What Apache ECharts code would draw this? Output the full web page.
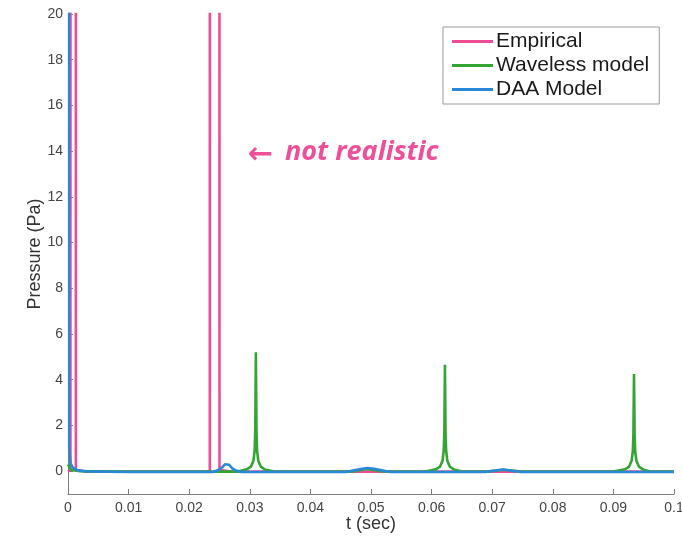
<!DOCTYPE html>
<html>
<head>
<meta charset="utf-8">
<script src="https://cdn.jsdelivr.net/npm/echarts@6/dist/echarts.min.js"></script>
<style>html,body{margin:0;padding:0;background:#fff}#c{width:682px;height:537px}</style>
</head>
<body>
<div id="c"></div>
<script>
var seriesNames = ['Empirical', 'Waveless model', 'DAA Model'];
var xTickLabels = ['0', '0.01', '0.02', '0.03', '0.04', '0.05', '0.06', '0.07', '0.08', '0.09', '0.1'];
var yTickValues = [0, 2, 4, 6, 8, 10, 12, 14, 16, 18, 20];

// [t (sec), pressure (Pa)]
var empirical = [
  [0, -0.02], [0.0004, 0.05], [0.0005, 400], [0.0012, 400], [0.0013, 0.05], [0.003, -0.02],
  [0.01, -0.02], [0.02, -0.02], [0.0234, -0.02], [0.0235, 400], [0.0249, 400], [0.0250, 0.05],
  [0.027, -0.02], [0.04, -0.02], [0.05, -0.02], [0.06, -0.02], [0.07, -0.02], [0.08, -0.02],
  [0.09, -0.02], [0.1, -0.02]
];

var waveless = [
  [0, 0.3], [0.0005, 0.05], [0.002, 0.0], [0.01, -0.02], [0.02, -0.02], [0.028, -0.02],
  [0.0295, 0.08], [0.0302, 0.2], [0.0306, 0.45], [0.0308, 0.9], [0.0309, 1.8], [0.0310, 5.2],
  [0.0311, 1.8], [0.0312, 0.9], [0.0314, 0.45], [0.0318, 0.2], [0.0325, 0.07], [0.034, -0.02],
  [0.047, -0.01], [0.0493, 0.1], [0.052, -0.01],
  [0.059, -0.02], [0.0607, 0.08], [0.0614, 0.2], [0.0618, 0.45], [0.0620, 0.9], [0.0621, 1.7],
  [0.0622, 4.65], [0.0623, 1.7], [0.0624, 0.9], [0.0626, 0.45], [0.0630, 0.2], [0.0637, 0.07],
  [0.065, -0.02], [0.0695, -0.01], [0.0718, 0.06], [0.0745, -0.01],
  [0.090, -0.02], [0.0919, 0.08], [0.0926, 0.2], [0.0930, 0.45], [0.0932, 0.85], [0.0933, 1.6],
  [0.0934, 4.25], [0.0935, 1.6], [0.0936, 0.85], [0.0938, 0.45], [0.0942, 0.2], [0.0949, 0.07],
  [0.096, -0.02], [0.1, -0.02]
];

var daa = [
  [0, 300], [0.0002, 1.0], [0.0004, 0.35], [0.0008, 0.15], [0.0015, 0.05], [0.003, -0.01],
  [0.01, -0.04], [0.02, -0.04], [0.0240, -0.03], [0.0248, 0.05], [0.0254, 0.15], [0.0259, 0.3],
  [0.0262, 0.35], [0.0266, 0.28], [0.0271, 0.12], [0.0277, 0.03], [0.0285, -0.03],
  [0.04, -0.04], [0.046, -0.03], [0.0485, 0.1], [0.0495, 0.14], [0.0505, 0.1], [0.053, -0.03],
  [0.06, -0.04], [0.069, -0.03], [0.0718, 0.07], [0.0745, -0.03], [0.085, -0.04],
  [0.095, -0.04], [0.1, -0.04]
];

var colors = ['#ee4c97', '#33a532', '#2a88d9'];
var dataSets = [empirical, waveless, daa];

var chart = echarts.init(document.getElementById('c'), null, {renderer: 'canvas'});
var axisGray = '#7d7d7d';
var labelColor = '#444';
var font = 'Liberation Sans, Arial, sans-serif';
var option = {
  animation: false,
  backgroundColor: '#fff',
  grid: {left: 68, right: 8, top: 14, bottom: 43, containLabel: false, outerBoundsMode: 'none'},
  legend: {
    orient: 'vertical',
    left: 443, top: 27,
    padding: [4, 10, 4, 9],
    itemGap: 3,
    icon: 'rect',
    itemWidth: 41, itemHeight: 3,
    borderColor: '#9a9a9a', borderWidth: 1,
    textStyle: {fontFamily: font, fontSize: 21, lineHeight: 21, color: '#1a1a1a', padding: [0, 0, 0, -2]},
    data: seriesNames
  },
  xAxis: {
    type: 'value', min: 0, max: 0.1, interval: 0.01,
    name: 't (sec)', nameLocation: 'middle', nameGap: 21, nameMoveOverlap: false,
    nameTextStyle: {fontFamily: font, fontSize: 18, color: '#333'},
    axisLine: {show: true, onZero: false, lineStyle: {color: axisGray, width: 1}},
    axisTick: {show: true, inside: true, length: 5, lineStyle: {color: axisGray}},
    axisLabel: {margin: 7, fontFamily: font, fontSize: 14, color: labelColor,
      formatter: function (v) { return xTickLabels[Math.round(v / 0.01)]; }},
    splitLine: {show: false}
  },
  yAxis: {
    type: 'value', min: -1, max: 20,
    name: 'Pressure (Pa)', nameLocation: 'middle', nameGap: 24, nameMoveOverlap: false,
    nameTextStyle: {fontFamily: font, fontSize: 18, color: '#333'},
    axisLine: {show: true, onZero: false, lineStyle: {color: axisGray, width: 1}},
    axisTick: {show: true, inside: true, length: 5, lineStyle: {color: axisGray}, customValues: yTickValues},
    axisLabel: {margin: 5, fontFamily: font, fontSize: 14, color: labelColor, customValues: yTickValues},
    splitLine: {show: false}
  },
  graphic: [{
    type: 'text', left: 248, top: 140,
    style: {text: '\u2190', fill: '#ef4f98', font: 'bold 30px "DejaVu Sans", sans-serif'}
  }, {
    type: 'text', left: 285, top: 139,
    style: {text: 'not realistic', fill: '#ef4f98', font: 'italic bold 27px "Open Sans", sans-serif'}
  }],
  series: seriesNames.map(function (n, i) {
    return {
      name: n, type: 'line', data: dataSets[i], symbol: 'none', showSymbol: false,
      clip: true, color: colors[i],
      lineStyle: {width: 2.6, color: colors[i]}
    };
  })
};
chart.setOption(option);
</script>
</body>
</html>
